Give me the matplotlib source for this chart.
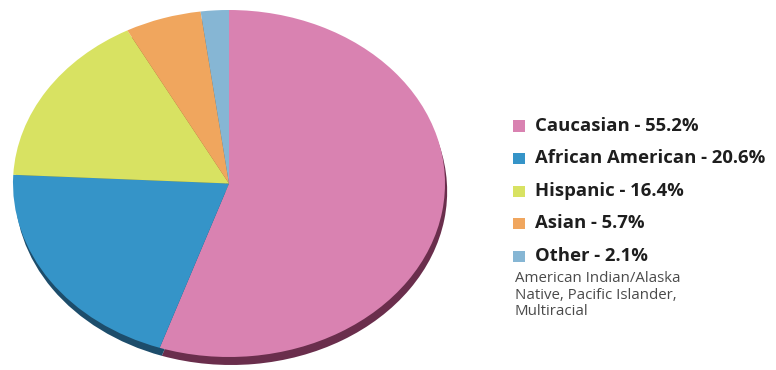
import numpy as np
import matplotlib.pyplot as plt
from matplotlib.patches import Rectangle

# Data
groups = ["Caucasian", "African American", "Hispanic", "Asian", "Other"]
shares = [55.2, 20.6, 16.4, 5.7, 2.1]
colors = ["#d982b1", "#3594c8", "#d8e262", "#f0a65e", "#86b6d4"]
rim_colors = ["#6a2e4c", "#1d4d6b", "#7c8230", "#8a5e2e", "#4d6d80"]
note = "American Indian/Alaska\nNative, Pacific Islander,\nMultiracial"

W, H = 776, 370
fig = plt.figure(figsize=(W / 100, H / 100), dpi=100)

# pie placed so the unit circle becomes an ellipse (cx=229, cy=183.5, rx=216, ry=173.5)
cx, cy, rx, ry = 229, 183.5, 216, 173.5
lim = 1.1
aw, ah = 2 * lim * rx, 2 * lim * ry
ax = fig.add_axes([(cx - aw / 2) / W, (H - (cy + ah / 2)) / H, aw / W, ah / H])

# rim / depth underneath
ax.pie(shares, colors=rim_colors, startangle=90, counterclock=False,
       center=(0.01, -8 / ry), wedgeprops=dict(linewidth=0))
ax.pie(shares, colors=colors, startangle=90, counterclock=False,
       wedgeprops=dict(linewidth=0))
ax.set_aspect("auto")
ax.set_xlim(-lim, lim)
ax.set_ylim(-lim, lim)
ax.axis("off")

# legend
fam = ["Open Sans", "DejaVu Sans"]
for i, (g, s, c) in enumerate(zip(groups, shares, colors)):
    y = 126 + i * 32.5
    fig.patches.append(Rectangle((513 / W, (H - y - 5.5) / H), 12 / W, 11 / H,
                                 transform=fig.transFigure, facecolor=c,
                                 edgecolor="none"))
    fig.text(535 / W, (H - y) / H, f"{g} - {s}%", fontsize=13.3, weight="bold",
             family=fam, color="#1e1e1e", va="center", ha="left")

fig.text(515 / W, (H - 271) / H, note, fontsize=10.8, family=fam,
         color="#4a4a4a", va="top", ha="left", linespacing=1.15)

fig.savefig("out.png", dpi=100)
